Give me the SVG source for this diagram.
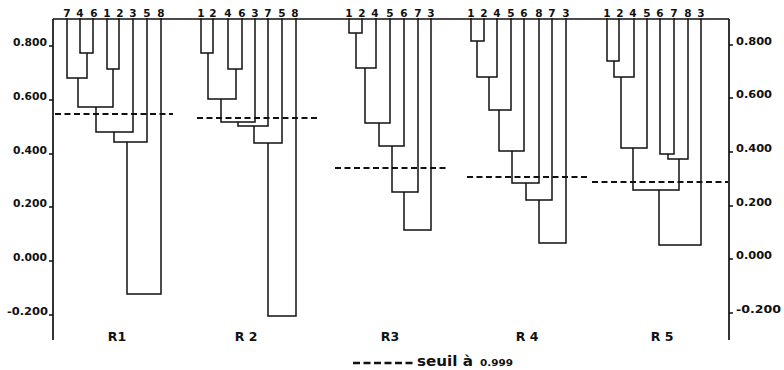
<svg xmlns="http://www.w3.org/2000/svg" width="784" height="370" viewBox="0 0 784 370">
<style>
.ln{fill:none;stroke:#111;stroke-width:1.5;stroke-linejoin:miter;stroke-linecap:square}
.ax{fill:none;stroke:#111;stroke-width:1.7}
.th{fill:none;stroke:#111;stroke-width:2;stroke-dasharray:6 3.5}
.lf{font-family:"DejaVu Sans",sans-serif;font-weight:bold;font-size:10.5px;fill:#111;text-anchor:middle}
.tk{font-family:"DejaVu Sans",sans-serif;font-weight:bold;font-size:10px;fill:#111}
.rl{font-family:"DejaVu Sans",sans-serif;font-weight:bold;font-size:12.5px;fill:#111;text-anchor:middle}
.lg{font-family:"DejaVu Sans",sans-serif;font-weight:bold;fill:#111}
</style>
<rect width="784" height="370" fill="#fff"/>
<g id="axes">
<path class="ax" d="M53 19V340M53 19H729M729 19V340"/>
<path class="ax" d="M49 46H53M49 100H53M49 154H53M49 207H53M49 261H53M49 315H53"/>
<path class="ax" d="M729 45H733M729 98H733M729 152H733M729 206H733M729 259H733M729 313H733"/>
</g>
<g id="left-scale">
<text class="tk" x="13" y="46" textLength="34" lengthAdjust="spacingAndGlyphs">0.800</text>
<text class="tk" x="13" y="100" textLength="34" lengthAdjust="spacingAndGlyphs">0.600</text>
<text class="tk" x="13" y="154" textLength="34" lengthAdjust="spacingAndGlyphs">0.400</text>
<text class="tk" x="13" y="207" textLength="34" lengthAdjust="spacingAndGlyphs">0.200</text>
<text class="tk" x="13" y="261" textLength="34" lengthAdjust="spacingAndGlyphs">0.000</text>
<text class="tk" x="7" y="315" textLength="41" lengthAdjust="spacingAndGlyphs">-0.200</text>
</g>
<g id="right-scale">
<text class="tk" x="736" y="45" textLength="36" lengthAdjust="spacingAndGlyphs">0.800</text>
<text class="tk" x="736" y="98" textLength="36" lengthAdjust="spacingAndGlyphs">0.600</text>
<text class="tk" x="736" y="152" textLength="36" lengthAdjust="spacingAndGlyphs">0.400</text>
<text class="tk" x="736" y="206" textLength="36" lengthAdjust="spacingAndGlyphs">0.200</text>
<text class="tk" x="736" y="259" textLength="36" lengthAdjust="spacingAndGlyphs">0.000</text>
<text class="tk" x="736" y="313" textLength="45" lengthAdjust="spacingAndGlyphs">-0.200</text>
</g>
<g id="R1">
<path class="ln" d="M80 19V53H93V19M67 19V78H87V53M107 19V69H119V19M78 78V107H113V69M96 107V132H133V19M114 132V142H147V19M127 142V294H161V19"/>
<g class="lf"><text x="67" y="17">7</text><text x="80" y="17">4</text><text x="94" y="17">6</text><text x="107" y="17">1</text><text x="120" y="17">2</text><text x="133" y="17">3</text><text x="147" y="17">5</text><text x="161" y="17">8</text></g>
<text class="rl" x="117" y="341">R1</text>
</g>
<g id="R2">
<path class="ln" d="M201 19V53H213V19M228 19V69H242V19M208 53V99H236V69M221 99V122H255V19M238 122V126H268V19M254 126V143H282V19M268 143V316H296V19"/>
<g class="lf"><text x="201" y="17">1</text><text x="213" y="17">2</text><text x="228" y="17">4</text><text x="242" y="17">6</text><text x="255" y="17">3</text><text x="268" y="17">7</text><text x="282" y="17">5</text><text x="295" y="17">8</text></g>
<text class="rl" x="246" y="341">R 2</text>
</g>
<g id="R3">
<path class="ln" d="M349 19V33H362V19M356 33V68H376V19M365 68V123H390V19M379 123V146H404V19M392 146V192H418V19M404 192V230H431V19"/>
<g class="lf"><text x="349" y="17">1</text><text x="362" y="17">2</text><text x="375" y="17">4</text><text x="390" y="17">5</text><text x="404" y="17">6</text><text x="418" y="17">7</text><text x="431" y="17">3</text></g>
<text class="rl" x="390" y="341">R3</text>
</g>
<g id="R4">
<path class="ln" d="M471 19V41H484V19M477 41V77H497V19M489 77V110H511V19M499 110V151H524V19M512 151V183H539V19M526 183V200H552V19M539 200V243H566V19"/>
<g class="lf"><text x="471" y="17">1</text><text x="484" y="17">2</text><text x="497" y="17">4</text><text x="511" y="17">5</text><text x="524" y="17">6</text><text x="539" y="17">8</text><text x="552" y="17">7</text><text x="566" y="17">3</text></g>
<text class="rl" x="527" y="341">R 4</text>
</g>
<g id="R5">
<path class="ln" d="M607 19V61H619V19M614 61V77H634V19M621 77V148H647V19M660 19V154H674V19M668 154V159H688V19M633 148V190H679V159M659 190V245H701V19"/>
<g class="lf"><text x="607" y="17">1</text><text x="620" y="17">2</text><text x="633" y="17">4</text><text x="647" y="17">5</text><text x="660" y="17">6</text><text x="674" y="17">7</text><text x="688" y="17">8</text><text x="701" y="17">3</text></g>
<text class="rl" x="662" y="341">R 5</text>
</g>
<g id="thresholds">
<path class="th" d="M55 114H173"/>
<path class="th" d="M197 118H317"/>
<path class="th" d="M335 168H449"/>
<path class="th" d="M467 177H588"/>
<path class="th" d="M592 182H728"/>
</g>
<g id="legend">
<path class="th" d="M353 363H415" style="stroke-width:2.4;stroke-dasharray:7 3.5"/>
<text class="lg" x="417" y="366" font-size="14" textLength="56" lengthAdjust="spacingAndGlyphs">seuil à</text>
<text class="lg" x="480" y="366" font-size="9.5" textLength="33" lengthAdjust="spacingAndGlyphs">0.999</text>
</g>
</svg>
